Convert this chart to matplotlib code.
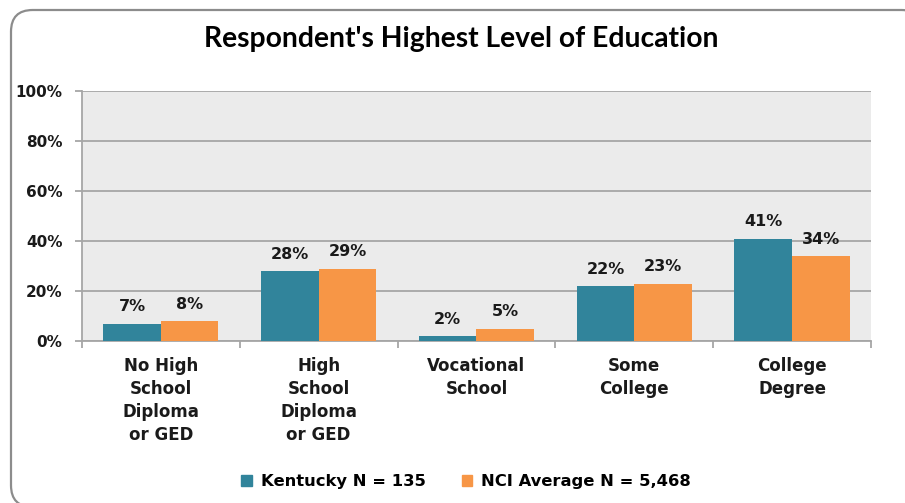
import matplotlib.pyplot as plt
from matplotlib.patches import FancyBboxPatch, Patch
import numpy as np

# data
categories = ['No High\nSchool\nDiploma\nor GED', 'High\nSchool\nDiploma\nor GED',
              'Vocational\nSchool', 'Some\nCollege', 'College\nDegree']
kentucky = [7, 28, 2, 22, 41]
nci_avg = [8, 29, 5, 23, 34]
kentucky_label = 'Kentucky N = 135'
nci_label = 'NCI Average N = 5,468'
yticks = [0, 20, 40, 60, 80, 100]

teal = '#31849B'
orange = '#F79646'
font = 'DejaVu Sans'

fig = plt.figure(figsize=(9.05, 5.03), dpi=100)

# rounded frame round the whole chart (its right and bottom run off the picture)
frame = FancyBboxPatch((11 / 905, -4 / 503), 912 / 905, 497 / 503,
                       boxstyle='round,pad=0,rounding_size=0.024',
                       transform=fig.transFigure, facecolor='white', edgecolor='#8c8c8c',
                       linewidth=1.6, mutation_aspect=905 / 503, zorder=-5)
fig.patches.append(frame)

ax = fig.add_axes([0.0906, 0.322, 0.8718, 0.497])
ax.set_facecolor('#EBEBEB')

x = np.arange(len(categories))
w = 0.365
b1 = ax.bar(x - w / 2, kentucky, w, color=teal, label=kentucky_label, zorder=3)
b2 = ax.bar(x + w / 2, nci_avg, w, color=orange, label=nci_label, zorder=3)

for bars, vals in ((b1, kentucky), (b2, nci_avg)):
    for r, v in zip(bars, vals):
        ax.annotate(f'{v}%', (r.get_x() + r.get_width() / 2, v), xytext=(0, 12),
                    textcoords='offset points', ha='center', va='center',
                    fontsize=11.5, fontweight='bold', family=font, color='#1a1a1a')

ax.set_xlim(-0.5, len(categories) - 0.5)
ax.set_ylim(0, 100)
ax.set_yticks(yticks)
ax.set_yticklabels([f'{t}%' for t in yticks], fontsize=11, fontweight='bold', family=font)
ax.yaxis.grid(True, color='#A6A6A6', linewidth=1.3, zorder=1)
ax.set_axisbelow(True)

ax.set_xticks(np.arange(len(categories) + 1) - 0.5)
ax.set_xticklabels([])
for i, c in enumerate(categories):
    ax.text(i, -6.5, c, ha='center', va='top', fontsize=12, fontweight='bold', family=font,
            linespacing=1.36, transform=ax.transData, color='#1a1a1a')

for s in ('top', 'right'):
    ax.spines[s].set_visible(False)
ax.spines['left'].set_color('#A6A6A6')
ax.spines['bottom'].set_color('#A6A6A6')
ax.spines['left'].set_linewidth(1.3)
ax.spines['bottom'].set_linewidth(1.3)
ax.tick_params(axis='both', colors='#A6A6A6', length=5, width=1.3, labelcolor='#1a1a1a')
ax.tick_params(axis='y', pad=9)

fig.text(461 / 905, 1 - 39 / 503, "Respondent's Highest Level of Education", ha='center',
         va='center', fontsize=20.3, fontweight='bold', family='Lato')

fig.legend(handles=[Patch(color=teal, label=kentucky_label), Patch(color=orange, label=nci_label)],
           loc='center', bbox_to_anchor=(466 / 905, 0.042), ncol=2, frameon=False,
           prop={'family': font, 'weight': 'bold', 'size': 11.8},
           handlelength=0.65, handleheight=0.65, handletextpad=0.55, columnspacing=2.2)

fig.savefig('out.png', dpi=100)
